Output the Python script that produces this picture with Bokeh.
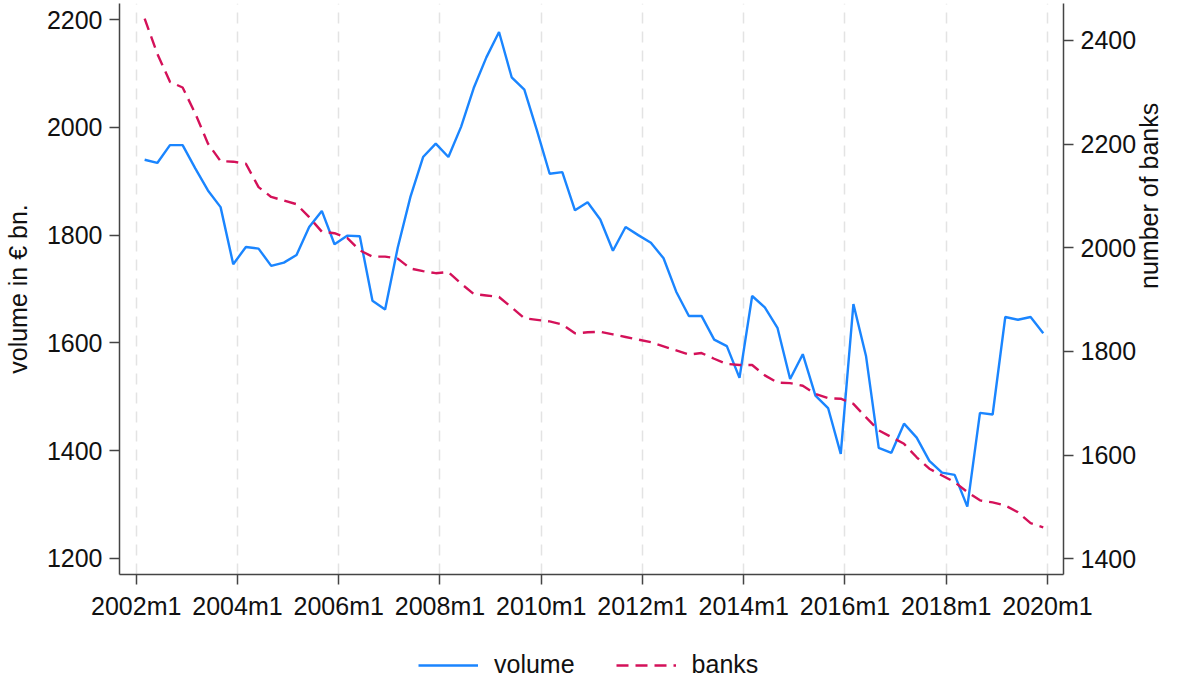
import math
from bokeh.plotting import figure
from bokeh.layouts import column
from bokeh.models import Range1d, LinearAxis, FixedTicker, Legend, LegendItem
from bokeh.embed import file_html
from bokeh.resources import INLINE

# ---- data (quarterly, 2002m3 ... 2019m12) ----
start_year = 2002
n_quarters = 72
months = [(start_year - 2002) * 12 + 2 + 3 * k for k in range(n_quarters)]  # months since 2002m1

volume = [1940, 1934, 1967, 1967, 1924, 1883, 1852, 1746, 1778, 1775, 1743, 1749,
          1763, 1815, 1845, 1783, 1799, 1798, 1678, 1662, 1777, 1871, 1945, 1970,
          1945, 2001, 2073, 2130, 2177, 2093, 2070, 1994, 1914, 1917, 1846, 1861,
          1829, 1771, 1815, 1800, 1786, 1757, 1695, 1650, 1650, 1606, 1594, 1535,
          1687, 1666, 1628, 1533, 1579, 1502, 1479, 1394, 1672, 1575, 1405, 1396,
          1450, 1424, 1381, 1359, 1355, 1296, 1470, 1467, 1648, 1643, 1648, 1618]

banks = [2442, 2374, 2320, 2309, 2259, 2201, 2167, 2166, 2162, 2117, 2098, 2091,
         2084, 2059, 2031, 2028, 2019, 1995, 1983, 1983, 1979, 1960, 1955, 1951,
         1953, 1931, 1911, 1908, 1905, 1885, 1864, 1861, 1858, 1852, 1835, 1837,
         1838, 1833, 1828, 1823, 1818, 1810, 1802, 1794, 1797, 1786, 1776, 1774,
         1774, 1754, 1740, 1739, 1734, 1718, 1710, 1709, 1699, 1673, 1648, 1635,
         1622, 1596, 1574, 1561, 1548, 1529, 1513, 1509, 1503, 1490, 1469, 1461]

x_tick_pos = [0, 24, 48, 72, 96, 120, 144, 168, 192, 216]
x_tick_labels = ["2002m1", "2004m1", "2006m1", "2008m1", "2010m1",
                 "2012m1", "2014m1", "2016m1", "2018m1", "2020m1"]
left_ticks = [1200, 1400, 1600, 1800, 2000, 2200]
right_ticks = [1400, 1600, 1800, 2000, 2200, 2400]

FONT = "Liberation Sans"
FS = "25px"
BLUE = "#1a85ff"
RED = "#d41159"
AXIS = "#444444"

# ---------------- main chart ----------------
p = figure(width=1180, height=625, output_backend="svg", toolbar_location=None,
           x_range=Range1d(-3.96, 219.8), y_range=Range1d(1170, 2230),
           min_border_left=119, min_border_right=117, min_border_top=3,
           min_border_bottom=51)
p.extra_y_ranges = {"banks": Range1d(1370, 2471)}
p.outline_line_color = None
p.background_fill_color = "white"
p.border_fill_color = "white"

xt = FixedTicker(ticks=x_tick_pos)
p.xaxis.ticker = xt
p.xgrid.ticker = xt
p.xaxis.major_label_overrides = {t: l for t, l in zip(x_tick_pos, x_tick_labels)}
p.yaxis.ticker = FixedTicker(ticks=left_ticks)
p.yaxis.axis_label = "volume in € bn."

raxis = LinearAxis(y_range_name="banks", axis_label="number of banks",
                   ticker=FixedTicker(ticks=right_ticks))
p.add_layout(raxis, "right")

for ax in [p.xaxis[0], p.yaxis[0], raxis]:
    ax.axis_line_color = AXIS
    ax.axis_line_width = 1.5
    ax.major_tick_line_color = AXIS
    ax.major_tick_line_width = 1.5
    ax.major_tick_out = 10
    ax.major_tick_in = 0
    ax.minor_tick_line_color = None
    ax.major_label_text_font = FONT
    ax.major_label_text_font_size = FS
    ax.major_label_text_color = "#111111"
    ax.major_label_standoff = 7
    ax.axis_label_text_font = FONT
    ax.axis_label_text_font_size = FS
    ax.axis_label_text_font_style = "normal"
    ax.axis_label_text_color = "#111111"

p.yaxis[0].axis_label_standoff = 12
raxis.axis_label_standoff = 10
raxis.axis_label_orientation = math.pi / 2   # read bottom-to-top, like the left title
raxis.axis_label_text_baseline = "top"

p.ygrid.visible = False
p.xgrid.grid_line_color = "#e3e3e3"
p.xgrid.grid_line_width = 1.5
p.xgrid.grid_line_dash = "11 8"

p.line(months, volume, line_color=BLUE, line_width=2.4)
p.line(months, banks, line_color=RED, line_width=2.4, line_dash="12 7",
       y_range_name="banks")

# ---------------- legend strip ----------------
leg = figure(width=1180, height=54, output_backend="svg", toolbar_location=None,
             x_range=Range1d(0, 1), y_range=Range1d(0, 1),
             x_axis_location=None, y_axis_location=None,
             min_border_left=0, min_border_right=0, min_border_top=0,
             min_border_bottom=0)
leg.outline_line_color = None
leg.xgrid.visible = False
leg.ygrid.visible = False
# same series (out of this strip's ranges, so only their legend samples show)
l_vol = leg.line(months, volume, line_color=BLUE, line_width=2.4)
l_bank = leg.line(months, banks, line_color=RED, line_width=2.4, line_dash="12 7")

legend = Legend(items=[LegendItem(label="volume", renderers=[l_vol]),
                       LegendItem(label="banks", renderers=[l_bank])],
                orientation="horizontal", location=(299, 0),
                padding=0, margin=0, spacing=41, glyph_width=60, glyph_height=20,
                label_standoff=16, border_line_color=None,
                background_fill_alpha=0,
                label_text_font=FONT, label_text_font_size=FS,
                label_text_color="#111111")
leg.add_layout(legend, "center")

open("out.html", "w").write(file_html(column(p, leg, spacing=0), INLINE))
